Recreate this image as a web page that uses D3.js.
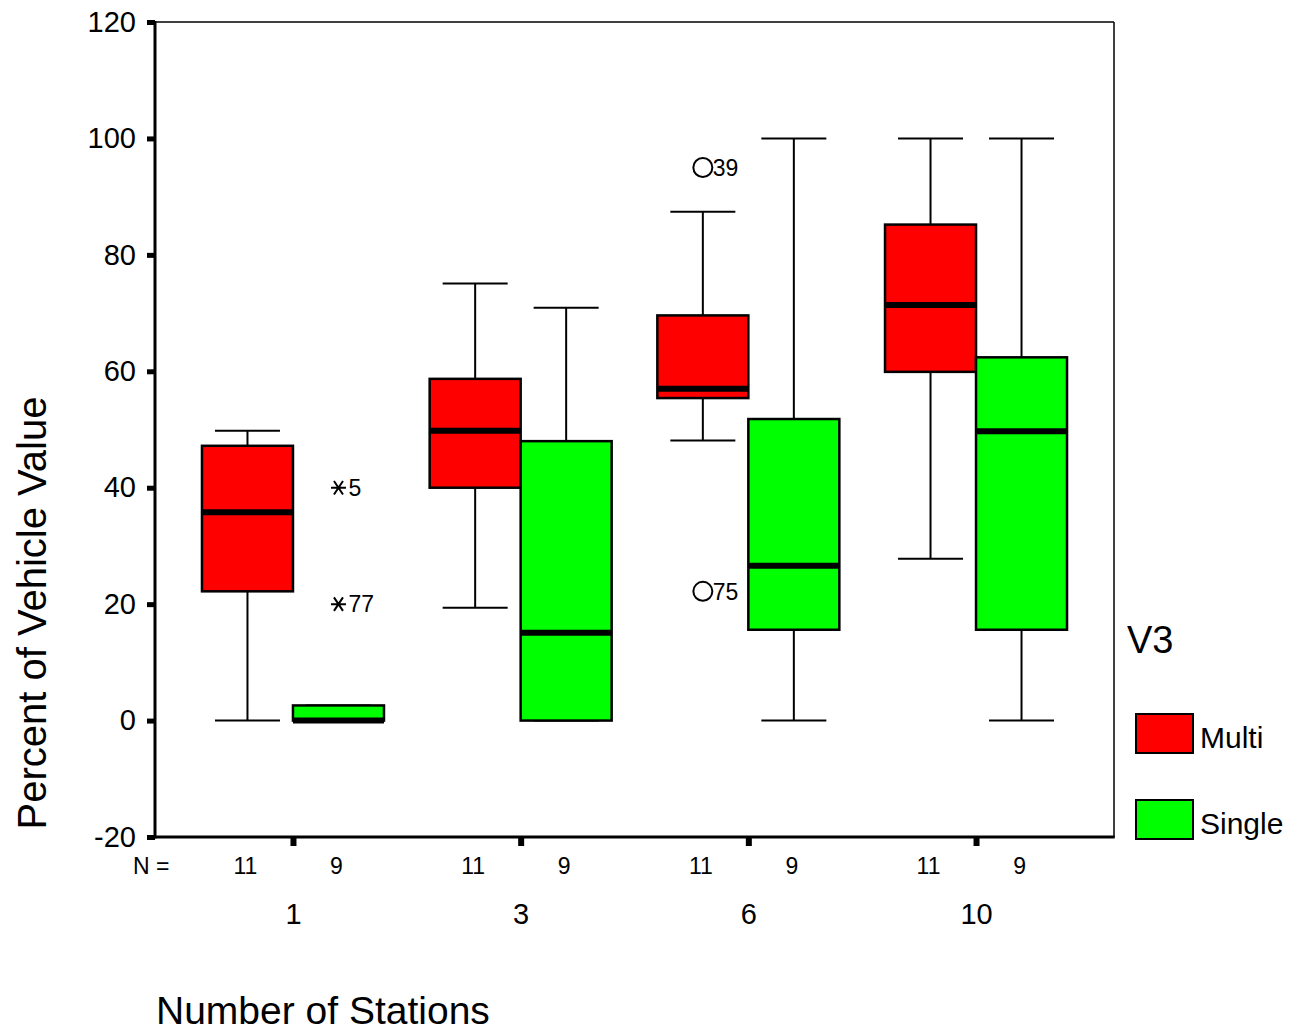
<!DOCTYPE html>
<html>
<head>
<meta charset="utf-8">
<script src="https://cdn.jsdelivr.net/npm/d3@7"></script>
<style>
  html, body { margin: 0; padding: 0; background: #fff; }
  svg { display: block; font-family: "Liberation Sans", Arial, sans-serif; }
</style>
</head>
<body>
<svg id="chart" width="1296" height="1033"></svg>
<script>
// ---- data ----
const categories = ["1", "3", "6", "10"];
const groups = ["Multi", "Single"];
const groupColors = ["#ff0000", "#00ff00"];
const nCounts = { Multi: [11, 11, 11, 11], Single: [9, 9, 9, 9] };

const multiLow  = [0, 19.4, 48.1, 27.8];
const multiQ1   = [22.2, 40.0, 55.4, 59.9];
const multiMed  = [35.8, 49.8, 57.0, 71.4];
const multiQ3   = [47.2, 58.7, 69.6, 85.2];
const multiHigh = [49.8, 75.1, 87.4, 100];

const singleLow  = [0, 0, 0, 0];
const singleQ1   = [0, 0, 15.6, 15.6];
const singleMed  = [0, 15.1, 26.6, 49.7];
const singleQ3   = [2.6, 48.0, 51.8, 62.4];
const singleHigh = [2.6, 70.9, 100, 100];

const outlierCats   = ["1", "1", "6", "6"];
const outlierGroups = ["Single", "Single", "Multi", "Multi"];
const outlierValues = [40, 20, 95, 22.2];
const outlierLabels = ["5", "77", "39", "75"];
const outlierTypes  = ["extreme", "extreme", "outlier", "outlier"];

const yTicks = [-20, 0, 20, 40, 60, 80, 100, 120];

// ---- build ----
const boxes = [];
categories.forEach((c, i) => {
  boxes.push({ cat: c, group: "Multi", low: multiLow[i], q1: multiQ1[i], med: multiMed[i], q3: multiQ3[i], high: multiHigh[i], n: nCounts.Multi[i] });
  boxes.push({ cat: c, group: "Single", low: singleLow[i], q1: singleQ1[i], med: singleMed[i], q3: singleQ3[i], high: singleHigh[i], n: nCounts.Single[i] });
});
const outliers = outlierValues.map((v, i) => ({ cat: outlierCats[i], group: outlierGroups[i], value: v, label: outlierLabels[i], type: outlierTypes[i] }));

const svg = d3.select("#chart");
const L = 155, R = 1114, T = 22, B = 837;

const y = d3.scaleLinear().domain([-20, 120]).range([B, T]);
const x0 = d3.scalePoint().domain(categories).range([L, R]).padding(0.606);
const x1 = d3.scaleBand().domain(groups).range([-91, 91]).paddingInner(0).paddingOuter(0);
const color = d3.scaleOrdinal().domain(groups).range(groupColors);
const bw = x1.bandwidth();
const capInset = 13;

// frame
svg.append("line").attr("x1", L).attr("x2", R).attr("y1", T).attr("y2", T).attr("stroke", "#000").attr("stroke-width", 1.5);
svg.append("line").attr("x1", R).attr("x2", R).attr("y1", T).attr("y2", B).attr("stroke", "#000").attr("stroke-width", 1.5);

// boxes
const g = svg.append("g");
boxes.forEach(d => {
  const xl = x0(d.cat) + x1(d.group);
  const xc = xl + bw / 2;
  const gg = g.append("g");
  if (d.high > d.q3) {
    gg.append("line").attr("x1", xc).attr("x2", xc).attr("y1", y(d.q3)).attr("y2", y(d.high)).attr("stroke", "#000").attr("stroke-width", 2);
  }
  if (d.low < d.q1) {
    gg.append("line").attr("x1", xc).attr("x2", xc).attr("y1", y(d.q1)).attr("y2", y(d.low)).attr("stroke", "#000").attr("stroke-width", 2);
  }
  if (d.high !== d.q3 || d.high !== d.low) {
    gg.append("line").attr("x1", xl + capInset).attr("x2", xl + bw - capInset).attr("y1", y(d.high)).attr("y2", y(d.high)).attr("stroke", "#000").attr("stroke-width", 2);
    gg.append("line").attr("x1", xl + capInset).attr("x2", xl + bw - capInset).attr("y1", y(d.low)).attr("y2", y(d.low)).attr("stroke", "#000").attr("stroke-width", 2);
  }
  gg.append("rect")
    .attr("x", xl).attr("width", bw)
    .attr("y", y(d.q3)).attr("height", y(d.q1) - y(d.q3))
    .attr("fill", color(d.group)).attr("stroke", "#000").attr("stroke-width", 2.5);
  gg.append("line").attr("x1", xl).attr("x2", xl + bw).attr("y1", y(d.med)).attr("y2", y(d.med)).attr("stroke", "#000").attr("stroke-width", 6);
});

// outliers
outliers.forEach(o => {
  const xc = x0(o.cat) + x1(o.group) + bw / 2;
  const yc = y(o.value);
  if (o.type === "outlier") {
    svg.append("circle").attr("cx", xc).attr("cy", yc).attr("r", 9.5).attr("fill", "none").attr("stroke", "#000").attr("stroke-width", 2);
    svg.append("text").attr("x", xc + 10).attr("y", yc).attr("dy", "0.36em").attr("font-size", 23).text(o.label);
  } else {
    const r = 7.5;
    const p = d3.path();
    p.moveTo(xc - r, yc); p.lineTo(xc + r, yc);
    p.moveTo(xc - r * 0.6, yc - r * 0.9); p.lineTo(xc + r * 0.6, yc + r * 0.9);
    p.moveTo(xc + r * 0.6, yc - r * 0.9); p.lineTo(xc - r * 0.6, yc + r * 0.9);
    svg.append("path").attr("d", p.toString()).attr("stroke", "#000").attr("stroke-width", 2).attr("fill", "none");
    svg.append("text").attr("x", xc + 10).attr("y", yc).attr("dy", "0.36em").attr("font-size", 23).text(o.label);
  }
});

// y axis
const yAxis = svg.append("g").attr("transform", `translate(${L},0)`)
  .call(d3.axisLeft(y).tickValues(yTicks).tickSize(8).tickPadding(11).tickFormat(d => String(d)));
yAxis.select(".domain").remove();
yAxis.selectAll(".tick line").attr("stroke", "#000").attr("stroke-width", 5);
yAxis.selectAll(".tick text").attr("font-size", 29).attr("fill", "#000").attr("font-family", "Liberation Sans, Arial, sans-serif");
svg.append("line").attr("x1", L).attr("x2", L).attr("y1", T - 1).attr("y2", B + 1.5).attr("stroke", "#000").attr("stroke-width", 3);

// x axis
const xAxis = svg.append("g").attr("transform", `translate(0,${B})`)
  .call(d3.axisBottom(x0).tickSize(9).tickPadding(57));
xAxis.select(".domain").remove();
xAxis.selectAll(".tick line").attr("stroke", "#000").attr("stroke-width", 6);
xAxis.selectAll(".tick text").attr("font-size", 29).attr("fill", "#000").attr("font-family", "Liberation Sans, Arial, sans-serif");
svg.append("line").attr("x1", L - 1.5).attr("x2", R + 0.75).attr("y1", B).attr("y2", B).attr("stroke", "#000").attr("stroke-width", 3);

// N labels
svg.append("text").attr("x", 133).attr("y", 874).attr("font-size", 23).text("N =");
boxes.forEach(d => {
  svg.append("text").attr("x", x0(d.cat) + x1(d.group) + bw / 2 - 2).attr("y", 874)
    .attr("text-anchor", "middle").attr("font-size", 23).text(d.n);
});

// axis titles
svg.append("text").attr("transform", "translate(46,613) rotate(-90)").attr("text-anchor", "middle")
  .attr("font-size", 40).text("Percent of Vehicle Value");
svg.append("text").attr("x", 156).attr("y", 1024).attr("font-size", 39).text("Number of Stations");

// legend
svg.append("text").attr("x", 1127).attr("y", 653).attr("font-size", 38).text("V3");
const legY = [714, 800];
groups.forEach((gname, i) => {
  svg.append("rect").attr("x", 1136).attr("y", legY[i]).attr("width", 57).attr("height", 39)
    .attr("fill", color(gname)).attr("stroke", "#000").attr("stroke-width", 2);
  svg.append("text").attr("x", 1200).attr("y", legY[i] + 34).attr("font-size", 30).text(gname);
});
</script>
</body>
</html>
